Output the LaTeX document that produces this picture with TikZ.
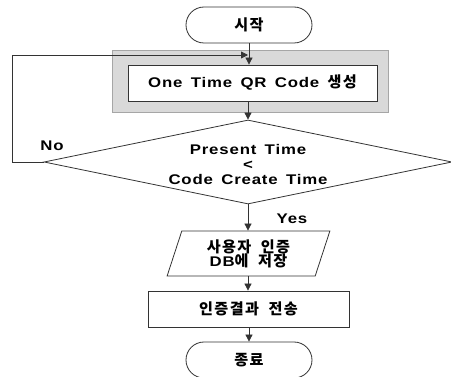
\documentclass[tikz,border=0pt]{standalone}
\usepackage{fontspec}
\setmainfont{Liberation Sans}[FakeStretch=1.2, LetterSpace=6, WordSpace=1.5]
\newfontfamily\krfont{Noto Sans CJK KR}[UprightFont=* Bold, Scale=1.08, LetterSpace=9, WordSpace=2]
\newcommand{\krtext}[1]{{\krfont #1}}
\usetikzlibrary{arrows.meta,shapes.geometric}
\begin{document}
\begin{tikzpicture}[x=1pt,y=-1pt,
  every node/.style={font=\bfseries\fontsize{14}{16}\selectfont, text=black},
  line/.style={draw=black!80, line width=0.8pt},
  flow/.style={line, -{Triangle[length=7pt,width=7pt]}},
  term/.style={line, rectangle, rounded corners=18pt, minimum width=126pt, minimum height=36pt, inner sep=0pt},
  procbox/.style={line, rectangle, minimum height=36pt, inner sep=0pt},
  iobox/.style={line, trapezium, trapezium left angle=72, trapezium right angle=108,
    trapezium stretches=true, minimum width=163pt, minimum height=45pt, inner sep=0pt, align=center},
  lbl/.style={inner sep=0pt}
]
\useasboundingbox (0,0) rectangle (451,377);

% start terminal
\node[term] (start) at (249,25) {\krtext{시작}};

% QR code generation, inside its shaded frame
\node[draw=black!35, fill=black!15, line width=0.8pt, minimum width=276pt, minimum height=62pt, inner sep=0pt] (frame) at (250,81) {};
\node[procbox, fill=white, minimum width=249pt] (gen) at (252.5,83) {One Time QR Code \krtext{생성}};

% time check
\node[line, diamond, minimum width=408pt, minimum height=84pt, inner sep=0pt] (dec) at (248,162) {};
\node[lbl, align=center] (dectext) at (248,164) {Present Time\\[-1pt]<\\[-1pt]Code Create Time};

% storing, sending, end
\node[iobox] (save) at (248.5,253.5) {\krtext{사용자 인증}\\[-2pt]DB\krtext{에 저장}};
\node[procbox, minimum width=201pt] (send) at (248.5,309) {\krtext{인증결과 전송}};
\node[term] (stop) at (249,360) {\krtext{종료}};

\coordinate (loopA) at (12,162);
\coordinate (loopB) at (12,55);
\coordinate (loopC) at (248,55);

% connectors
\draw[flow] (start.south) -- (gen.north -| start.south);
\draw[flow] (gen.south -| dec.north) -- (dec.north);
\draw[flow] (dec.west) -- (loopA) -- (loopB) -- (loopC);
\draw[flow] (dec.south) -- (save.north -| dec.south);
\draw[flow] (save.south -| dec.south) -- (send.north -| dec.south);
\draw[flow] (send.south -| stop.north) -- (stop.north);

% branch labels
\node[lbl] (no) at (52,146) {No};
\node[lbl] (yes) at (292,219) {Yes};
\end{tikzpicture}
\end{document}
